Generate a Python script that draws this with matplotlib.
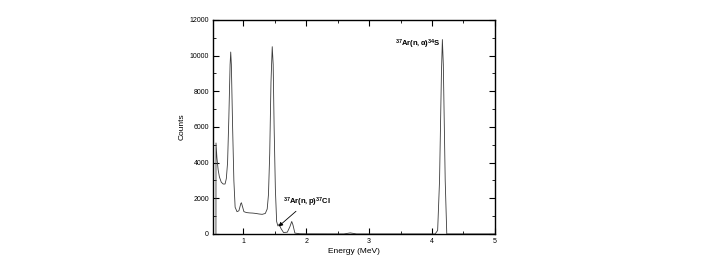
import matplotlib
matplotlib.use('Agg')
import matplotlib.pyplot as plt
from matplotlib.ticker import MultipleLocator

plt.rcParams['font.family'] = ['Liberation Sans', 'DejaVu Sans']
plt.rcParams['mathtext.fontset'] = 'custom'
plt.rcParams['mathtext.rm'] = 'Liberation Sans'
plt.rcParams['mathtext.bf'] = 'Liberation Sans:bold'
plt.rcParams['mathtext.it'] = 'Liberation Sans:italic'

# spectrum
energy = [0.565, 0.566, 0.58, 0.60, 0.62, 0.65, 0.68, 0.71, 0.73, 0.75, 0.77, 0.79, 0.80,
          0.81, 0.83, 0.85, 0.87, 0.90, 0.93, 0.96, 0.97, 0.99, 1.01, 1.05, 1.10, 1.15,
          1.20, 1.25, 1.30, 1.35, 1.38, 1.40, 1.42, 1.44, 1.46, 1.475, 1.49, 1.51, 1.53,
          1.55, 1.57, 1.60, 1.64, 1.70, 1.74, 1.77, 1.79, 1.82, 1.90, 2.00, 2.60, 2.65,
          2.70, 2.75, 2.80, 4.05, 4.09, 4.12, 4.15, 4.165, 4.18, 4.21, 4.235, 5.0]
counts = [0, 5100, 4300, 3600, 3200, 2900, 2800, 2800, 3100, 4000, 6500, 9500, 10200,
          9500, 6000, 3000, 1500, 1250, 1300, 1700, 1750, 1500, 1250, 1200, 1180, 1170,
          1150, 1120, 1100, 1150, 1400, 2200, 4500, 8500, 10500, 9500, 6000, 2500, 700,
          450, 550, 300, 80, 100, 400, 700, 500, 50, 10, 5, 0, 30,
          60, 30, 0, 0, 200, 3000, 9000, 10900, 9500, 3000, 0, 0]

fig = plt.figure(figsize=(7.08, 2.73), dpi=100)
ax = fig.add_axes([0.301, 0.143, 0.398, 0.784])
ax.plot(energy, counts, color='#3a3a3a', lw=0.6)

ax.set_xlim(0.52, 5)
ax.set_ylim(0, 12000)
ax.xaxis.set_major_locator(MultipleLocator(1))
ax.xaxis.set_minor_locator(MultipleLocator(0.5))
ax.yaxis.set_major_locator(MultipleLocator(2000))
ax.yaxis.set_minor_locator(MultipleLocator(1000))
ax.tick_params(which='both', direction='in', top=True, right=True, labelsize=5, pad=3)
ax.tick_params(which='major', length=4, width=0.8)
ax.tick_params(which='minor', length=2.5, width=0.6)
for s in ax.spines.values():
    s.set_linewidth(1.0)

ax.set_xlabel('Energy (MeV)', fontsize=6, labelpad=2)
ax.set_ylabel('Counts', fontsize=6, labelpad=3)

ax.text(4.14, 10650, r'$\mathbf{^{37}Ar(n,\alpha)^{34}S}$', fontsize=5.5,
        ha='right', va='center')
ax.annotate(r'$\mathbf{^{37}Ar(n,p)^{37}Cl}$', xy=(1.56, 420), xytext=(1.63, 1800),
            fontsize=5.5, va='center',
            arrowprops=dict(arrowstyle='-|>', color='black', lw=0.6,
                            mutation_scale=6, shrinkA=0, shrinkB=0),
            )

fig.savefig('out.png', dpi=100)
